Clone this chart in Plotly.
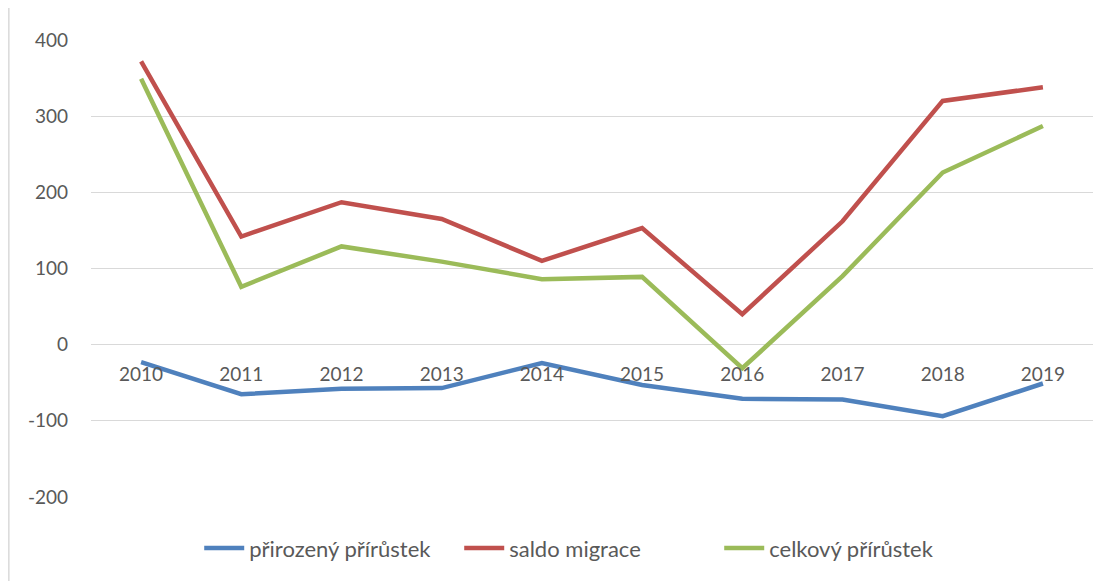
import plotly.graph_objects as go

years = ['2010', '2011', '2012', '2013', '2014', '2015', '2016', '2017', '2018', '2019']
prirozeny = [-23, -65, -58, -57, -24, -53, -71, -72, -94, -51]
saldo = [372, 142, 187, 165, 110, 153, 40, 162, 320, 338]
celkovy = [349, 76, 129, 109, 86, 89, -31, 90, 226, 287]

y_ticks = [-200, -100, 0, 100, 200, 300, 400]
y_labels = ['-200', '-100', '0', '100', '200', '300', '400']

names = ['přirozený přírůstek', 'saldo migrace', 'celkový přírůstek']
colors = ['#4F81BD', '#C0504D', '#9BBB59']

fig = go.Figure()
for name, vals, col in zip(names, [prirozeny, saldo, celkovy], colors):
    fig.add_trace(go.Scatter(
        x=years, y=vals, name=name, mode='lines',
        line=dict(color=col, width=4.5),
    ))

fig.update_layout(
    width=1106, height=581,
    margin=dict(l=83, r=21, t=32, b=92),
    plot_bgcolor='white', paper_bgcolor='white',
    font=dict(family='Lato', color='#595959', size=19),
    legend=dict(orientation='h', x=0.108, xanchor='left', y=-0.112, yanchor='middle',
                font=dict(size=22), itemwidth=40, tracegroupgap=0,
                entrywidth=205, entrywidthmode='pixels'),
    showlegend=True,
)
fig.update_yaxes(
    range=[-200, 400], tickvals=y_ticks, ticktext=y_labels,
    showgrid=True, gridcolor='#D9D9D9', gridwidth=1.3,
    zeroline=False, showline=False, ticks='', ticklabelstandoff=22,
)
# category axis drawn across the zero line: 0 sits at 1/3 of the y range
fig.update_xaxes(
    anchor='free', position=1/3, showgrid=False, zeroline=False, showline=False,
    ticks='', range=[-0.5, 9.5], ticklabelstandoff=16,
)
fig.add_shape(type='line', xref='paper', yref='paper', x0=-0.082, x1=-0.082, y0=-0.3, y1=1.1,
              line=dict(color='#D9D9D9', width=1.5))

fig.write_html("out.html")
